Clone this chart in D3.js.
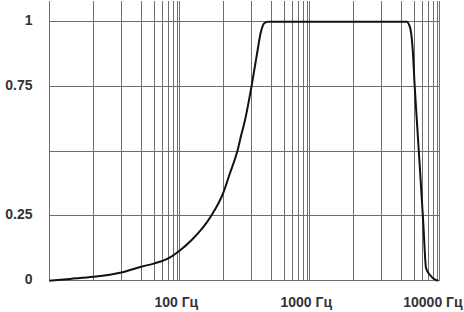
<!DOCTYPE html>
<html>
<head>
<meta charset="utf-8">
<script src="https://cdn.jsdelivr.net/npm/d3@7"></script>
<style>
  body { margin: 0; background: #fff; }
  .grid line { stroke: #6e6e6e; stroke-width: 1; shape-rendering: crispEdges; }
  .lbl { font-family: "Liberation Sans", Arial, sans-serif; font-size: 14px; font-weight: bold; fill: #333; }
</style>
</head>
<body>
<div class="chart"></div>
<script>
// frequency (Hz) and relative response
var freqs = [10, 14.7, 20, 30, 40, 50, 70, 95, 128, 172, 199, 223, 249, 265, 277, 300, 327, 348, 365, 385,
             4400, 4650, 4870, 5030, 5260, 5730, 6210, 6650, 7330, 8050, 9500];
var response = [0, 0.007, 0.015, 0.032, 0.054, 0.067, 0.086, 0.112, 0.157, 0.25, 0.337, 0.415, 0.498, 0.569, 0.62, 0.749, 0.871, 0.961, 0.994, 1,
                1, 0.981, 0.891, 0.752, 0.643, 0.43, 0.22, 0.048, 0.022, 0.007, 0];

var decades = [10, 100, 1000];
var mantissas = [1, 2, 3, 4, 5, 6, 7, 8, 9];
var xTicks = [100, 1000, 10000];
var yTicks = [0, 0.25, 0.75, 1];
var yGrid = [0, 0.25, 0.5, 0.75, 1];

var svgWidth = 464;
var svgHeight = 312;
var margin = {top: 1, right: 24.7, bottom: 31.3, left: 49.3};
var width = svgWidth - margin.left - margin.right;
var height = svgHeight - margin.top - margin.bottom;
var decadeWidth = width / decades.length;

// the drawing squeezes the minor lines towards the end of each decade
var minorFrac = [0, 0.34, 0.555, 0.707, 0.809, 0.867, 0.915, 0.957, 0.984];

var gridFreqs = [];
var gridPos = [];
decades.forEach(function(d, i) {
    mantissas.forEach(function(m, j) {
        gridFreqs.push(d * m);
        gridPos.push((i + minorFrac[j]) * decadeWidth);
    });
});
gridFreqs.push(10000);
gridPos.push(width);

var xScale = d3.scaleLinear().domain(gridFreqs).range(gridPos);
var yScale = d3.scaleLinear().domain([0, 1.08]).range([height, 0]);

var svg = d3.select(".chart")
    .append("svg")
    .attr("width", svgWidth)
    .attr("height", svgHeight)
    .append("g")
    .attr("transform", "translate(" + margin.left + "," + margin.top + ")");

// vertical grid
svg.append("g").attr("class", "grid")
    .selectAll("line")
    .data(gridFreqs)
    .enter().append("line")
    .attr("x1", function(d) { return xScale(d); })
    .attr("x2", function(d) { return xScale(d); })
    .attr("y1", 0)
    .attr("y2", height);

// horizontal grid
svg.append("g").attr("class", "grid")
    .selectAll("line")
    .data(yGrid)
    .enter().append("line")
    .attr("x1", 0)
    .attr("x2", width)
    .attr("y1", function(d) { return yScale(d); })
    .attr("y2", function(d) { return yScale(d); });

var points = freqs.map(function(f, i) { return {f: f, v: response[i]}; });

var line = d3.line()
    .x(function(d) { return xScale(d.f); })
    .y(function(d) { return yScale(d.v); })
    .curve(d3.curveMonotoneX);

svg.append("path")
    .datum(points)
    .attr("fill", "none")
    .attr("stroke", "#111")
    .attr("stroke-width", 2)
    .attr("stroke-linejoin", "round")
    .attr("d", line);

// y labels
svg.selectAll(".ylbl")
    .data(yTicks)
    .enter().append("text")
    .attr("class", "lbl ylbl")
    .attr("text-anchor", "end")
    .attr("x", -16.8)
    .attr("y", function(d) { return yScale(d) + 3.5; })
    .text(function(d) { return d; });

// x labels, last one kept inside the picture
svg.selectAll(".xlbl")
    .data(xTicks)
    .enter().append("text")
    .attr("class", "lbl xlbl")
    .attr("text-anchor", "middle")
    .attr("x", function(d) { return xScale(d) - 3; })
    .attr("y", height + 26)
    .text(function(d) { return d + " Гц"; })
    .each(function() {
        var box = this.getBBox();
        var over = box.x + box.width + margin.left - (svgWidth - 1);
        if (over > 0) d3.select(this).attr("x", +d3.select(this).attr("x") - over);
    });
</script>
</body>
</html>
